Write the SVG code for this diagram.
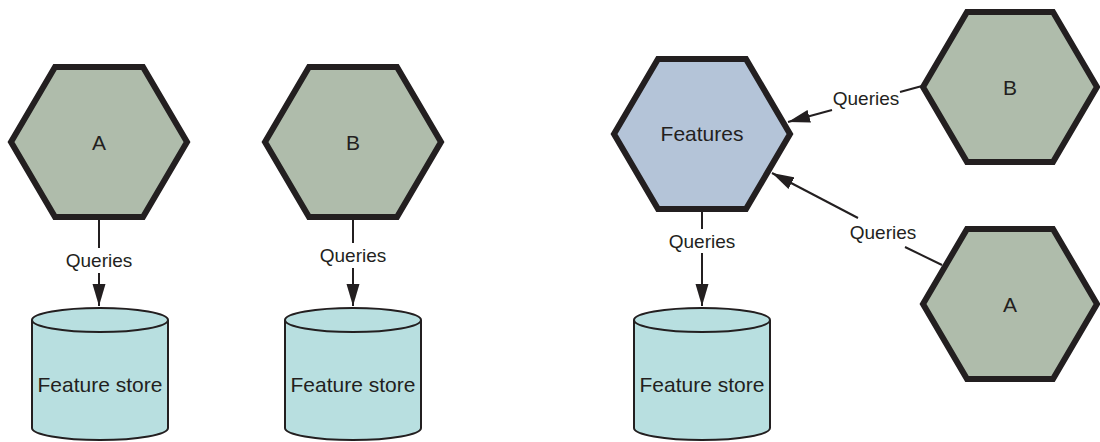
<svg xmlns="http://www.w3.org/2000/svg" width="1100" height="442" viewBox="0 0 1100 442">
<style>
.hex{stroke:#231f20;stroke-width:6;stroke-linejoin:miter}
.green{fill:#afbcab}
.blue{fill:#b4c4d8}
.cyl{fill:#b8dfe0;stroke:#231f20;stroke-width:2}
.lbl{font-family:"Liberation Sans",Arial,sans-serif;font-size:21px;fill:#231f20;text-anchor:middle}
.q{font-family:"Liberation Sans",Arial,sans-serif;font-size:19px;fill:#231f20;text-anchor:middle}
.con line{stroke:#231f20;stroke-width:2}
</style>
<defs>
<marker id="arr" markerUnits="userSpaceOnUse" markerWidth="22" markerHeight="14" refX="22" refY="7" orient="auto" viewBox="0 0 22 14">
<path d="M0,0.5 L22,7 L0,13.5 z" fill="#231f20"/>
</marker>
</defs>
<rect width="1100" height="442" fill="#ffffff"/>

<g id="hexA1">
<polygon class="hex green" points="11,142 55,67 143,67 187,142 143,217 55,217"/>
<text class="lbl" x="99" y="149.5">A</text>
</g>
<g id="hexB1">
<polygon class="hex green" points="265,142 309,67 397,67 441,142 397,217 309,217"/>
<text class="lbl" x="353" y="149.5">B</text>
</g>
<g id="features">
<polygon class="hex blue" points="614,134 658,59 746,59 790,134 746,209 658,209"/>
<text class="lbl" x="702" y="141">Features</text>
</g>
<g id="hexB2">
<polygon class="hex green" points="923,87 967,12 1053,12 1097,87 1053,162 967,162"/>
<text class="lbl" x="1010" y="94.5">B</text>
</g>
<g id="hexA2">
<polygon class="hex green" points="923,304 967,229 1053,229 1097,304 1053,379 967,379"/>
<text class="lbl" x="1010" y="311.5">A</text>
</g>

<g id="store1">
<path class="cyl" d="M32,320 L32,428 A68,12 0 0 0 168,428 L168,320"/>
<ellipse class="cyl" cx="100" cy="320" rx="68" ry="12"/>
<text class="lbl" x="100" y="392">Feature store</text>
</g>
<g id="store2">
<path class="cyl" d="M285,320 L285,428 A68,12 0 0 0 421,428 L421,320"/>
<ellipse class="cyl" cx="353" cy="320" rx="68" ry="12"/>
<text class="lbl" x="353" y="392">Feature store</text>
</g>
<g id="store3">
<path class="cyl" d="M634,320 L634,428 A68,12 0 0 0 770,428 L770,320"/>
<ellipse class="cyl" cx="702" cy="320" rx="68" ry="12"/>
<text class="lbl" x="702" y="392">Feature store</text>
</g>

<g id="connectors" class="con">
<line x1="99" y1="220" x2="99" y2="248"/>
<line x1="99" y1="273" x2="99" y2="306" marker-end="url(#arr)"/>
<text class="q" x="99" y="267">Queries</text>

<line x1="353" y1="220" x2="353" y2="243"/>
<line x1="353" y1="268" x2="353" y2="306" marker-end="url(#arr)"/>
<text class="q" x="353" y="262">Queries</text>

<line x1="702" y1="212" x2="702" y2="229"/>
<line x1="702" y1="253" x2="702" y2="306" marker-end="url(#arr)"/>
<text class="q" x="702" y="248">Queries</text>

<line x1="922" y1="86" x2="900" y2="92"/>
<line x1="832" y1="110" x2="788" y2="122" marker-end="url(#arr)"/>
<text class="q" x="866" y="105">Queries</text>

<line x1="942" y1="265" x2="905" y2="247"/>
<line x1="858" y1="218" x2="772" y2="173" marker-end="url(#arr)"/>
<text class="q" x="883" y="239">Queries</text>
</g>
</svg>
